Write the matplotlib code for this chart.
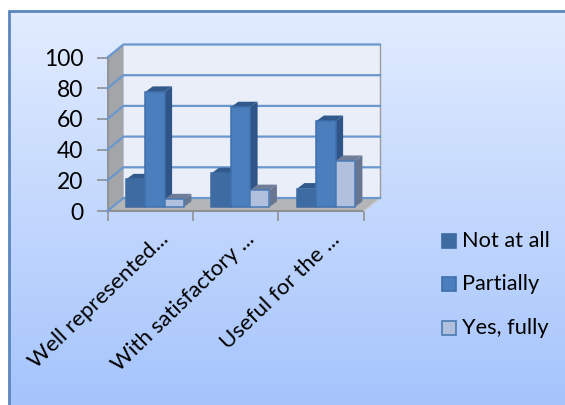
import matplotlib
matplotlib.use('Agg')
import matplotlib.pyplot as plt
import numpy as np

categories = ['Well represented...', 'With satisfactory ...', 'Useful for the ...']
not_at_all = [18, 22, 12]
partially = [75, 65, 56]
yes_fully = [5, 11, 30]

W, H = 565, 405
plt.rcParams['font.family'] = ['Lato', 'DejaVu Sans']

fig = plt.figure(figsize=(W / 100, H / 100), dpi=100, facecolor='white')

# background panel with the vertical gradient
bg = fig.add_axes([0, 0, 1, 1], zorder=0)
bg.set_xlim(0, W)
bg.set_ylim(H, 0)
bg.axis('off')
grad = np.linspace(0, 1, 256).reshape(-1, 1)
top_col = np.array([226, 236, 255]) / 255
bot_col = np.array([165, 196, 252]) / 255
img = top_col + (bot_col - top_col) * grad[:, :, None]
bg.imshow(img, extent=[9, W, H, 11], aspect='auto', zorder=1)
bg.plot([9, 9, W], [H, 11, 11], color='#5b86bd', lw=2.0, zorder=2, solid_joinstyle='miter')
bg.set_xlim(0, W)
bg.set_ylim(H, 0)

# main axes is the front plane of the fake 3d box
x0, x1, y0, y1 = 107.5, 364, 211, 57.5
ax = fig.add_axes([x0 / W, 1 - y0 / H, (x1 - x0) / W, (y0 - y1) / H], zorder=1)
ax.patch.set_visible(False)
ax.set_xlim(0, 3)
ax.set_ylim(0, 100)
for s in ax.spines.values():
    s.set_visible(False)

px_x = 3 / (x1 - x0)
px_y = 100 / (y0 - y1)
depth_x = 16 * px_x
depth_y = 13 * px_y

ticks = [0, 20, 40, 60, 80, 100]

# back wall, side wall, floor
ax.fill([depth_x, 3 + depth_x, 3 + depth_x, depth_x],
        [depth_y, depth_y, 100 + depth_y, 100 + depth_y],
        color='#e9eef8', lw=0, zorder=1, clip_on=False)
ax.fill([0, depth_x, depth_x, 0], [0, depth_y, 100 + depth_y, 100],
        color='#a3a5a9', lw=0, zorder=1, clip_on=False)
ax.fill([0, 3, 3 + depth_x, depth_x], [0, 0, depth_y, depth_y],
        color='#b3b5b7', lw=0, zorder=1, clip_on=False)
ax.plot([0, 3], [0, 0], color='#8e9093', lw=1.5, zorder=2, clip_on=False)
ax.plot([0, 0], [0, 100], color='#8e9093', lw=1.3, zorder=2, clip_on=False)
ax.plot([3 + depth_x, 3 + depth_x], [depth_y, 100 + depth_y], color='#9a9ca0', lw=1, zorder=2, clip_on=False)
ax.plot([3, 3 + depth_x], [0, depth_y], color='#c8c9cb', lw=1, zorder=2, clip_on=False)

# gridlines on the walls
for t in ticks:
    ax.plot([0, depth_x, 3 + depth_x], [t, t + depth_y, t + depth_y],
            color='#6a97cd', lw=1.6, zorder=3, clip_on=False)

# bars
bar_w = 19.3 * px_x
start = 18.5 * px_x
bar_dx = 7.5 * px_x
bar_dy = 5.5 * px_y
base = 4 * px_y
series = [not_at_all, partially, yes_fully]
fronts = ['#3f6ba3', '#4a7ebd', '#b0c0dd']
tops = ['#32598c', '#32598c', '#6f7d99']
sides = ['#2f5487', '#2f5487', '#687692']
edges = ['#3f6ba3', '#3f70ad', '#4a7ab5']
names = ['Not at all', 'Partially', 'Yes, fully']

z = 5
for c in range(3):
    for i, vals in enumerate(series):
        left = c + start + i * bar_w
        right = left + bar_w
        v = vals[c] + base
        ax.fill([right, right + bar_dx, right + bar_dx, right],
                [base, base + bar_dy, v + bar_dy, v],
                color=sides[i], lw=0, zorder=z, clip_on=False)
        ax.fill([left, left + bar_dx, right + bar_dx, right],
                [v, v + bar_dy, v + bar_dy, v],
                color=tops[i], lw=0, zorder=z, clip_on=False)
        ax.bar(left, vals[c], width=bar_w, bottom=base, align='edge',
               color=fronts[i], edgecolor=edges[i], lw=1.1, zorder=z + 1, clip_on=False)
    z += 2

# axis ticks and labels
ax.set_yticks(ticks)
ax.set_yticklabels([str(t) for t in ticks], fontsize=16.5, color='black')
ax.set_xticks([0, 1, 2, 3])
ax.set_xticklabels([])
ax.tick_params(axis='y', length=8, width=1.2, color='#8e9093', pad=9.5)
ax.tick_params(axis='x', length=7, width=1.2, color='#8e9093')

label_x = [0.6, 1.6, 2.6]
for c, name in enumerate(categories):
    ax.annotate(name, (label_x[c], 0), xytext=(0, -13), textcoords='offset points',
                rotation=44, rotation_mode='anchor', ha='right', va='top',
                fontsize=16, color='black', annotation_clip=False)

# legend
leg_y = [240.5, 284, 327.5]
for i, name in enumerate(names):
    bg.fill([442, 456, 456, 442], [leg_y[i] - 7, leg_y[i] - 7, leg_y[i] + 7, leg_y[i] + 7],
            facecolor=fronts[i], edgecolor=edges[i], lw=1.2, zorder=3)
    bg.text(462, leg_y[i] + 0.5, name, fontsize=15.7, va='center', ha='left', color='black', zorder=3)

fig.savefig('out.png', dpi=100)
